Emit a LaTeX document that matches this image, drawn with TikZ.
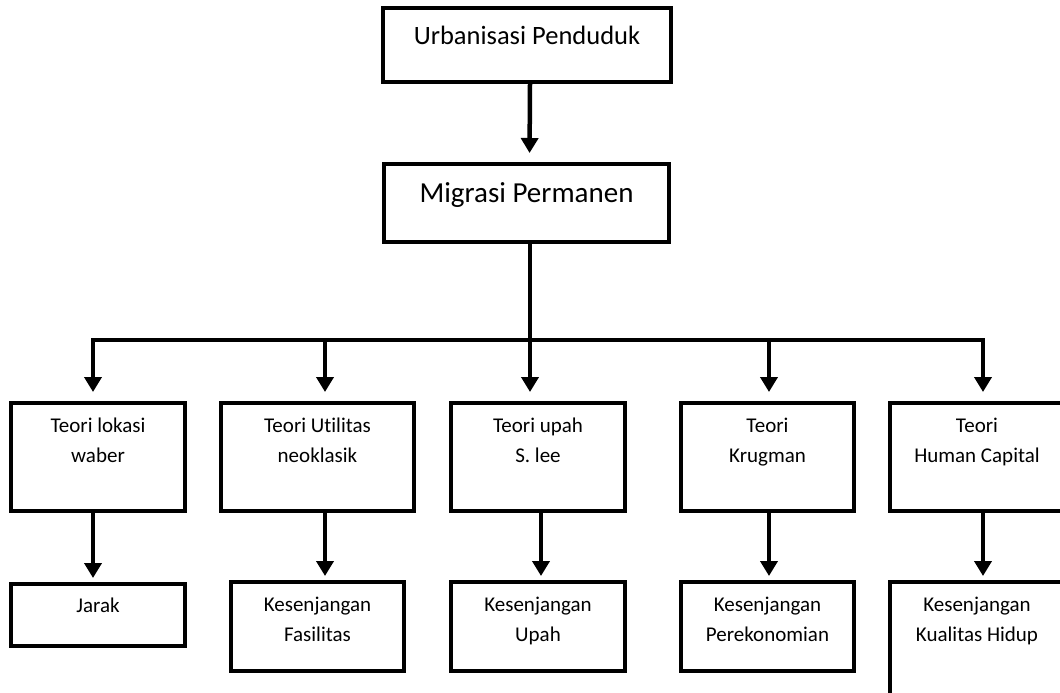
\documentclass[tikz,border=0pt]{standalone}
\usepackage{fontspec}
\setmainfont{Carlito}[Ligatures=NoCommon]
\usetikzlibrary{arrows.meta}
\tikzset{
  box/.style={draw=black, line width=4pt, fill=white, inner sep=0pt},
  txt/.style={inner sep=0pt, align=center, anchor=base, font=\fontsize{21}{30}\selectfont},
  arr/.style={line width=4.5pt, -{Triangle[width=17pt,length=15pt]}},
  ln/.style={line width=4.5pt}
}
\begin{document}
\begin{tikzpicture}[x=1pt,y=-1pt]
\useasboundingbox (0,0) rectangle (1060,693);
\clip (0,0) rectangle (1060,693);
% top boxes
\node[box, minimum width=288pt, minimum height=74pt] (urb) at (527,45) {};
\node[txt, font=\fontsize{26.5}{32}\selectfont] (urbt) at ([yshift=-39pt]urb.north) {Urbanisasi Penduduk};
\node[box, minimum width=285pt, minimum height=78pt] (mig) at (526.5,203) {};
\node[txt, font=\fontsize{29}{34}\selectfont] (migt) at ([yshift=-40pt]mig.north) {Migrasi Permanen};
% theory boxes
\node[box, minimum width=174pt, minimum height=108pt] (t1) at (98,457) {};
\node[box, minimum width=193pt, minimum height=108pt] (t2) at (317.5,457) {};
\node[box, minimum width=174pt, minimum height=108pt] (t3) at (538,457) {};
\node[box, minimum width=173pt, minimum height=108pt] (t4) at (767.5,457) {};
\node[box, minimum width=174pt, minimum height=108pt] (t5) at (977,457) {};
\node[txt] (t1t) at ([yshift=-61pt]t1.north) {Teori lokasi\\waber};
\node[txt] (t2t) at ([yshift=-61pt]t2.north) {Teori Utilitas\\neoklasik};
\node[txt] (t3t) at ([yshift=-61pt]t3.north) {Teori upah\\S. lee};
\node[txt] (t4t) at ([yshift=-61pt]t4.north) {Teori\\Krugman};
\node[txt] (t5t) at ([yshift=-61pt]t5.north) {Teori\\Human Capital};
% bottom boxes
\node[box, minimum width=174pt, minimum height=62pt] (b1) at (98,615) {};
\node[box, minimum width=173pt, minimum height=89pt] (b2) at (317.5,626.5) {};
\node[box, minimum width=174pt, minimum height=89pt] (b3) at (538,626.5) {};
\node[box, minimum width=173pt, minimum height=89pt] (b4) at (767.5,626.5) {};
\node[box, minimum width=174pt, minimum height=150pt] (b5) at (977,657) {};
\node[txt] (b1t) at ([yshift=-30pt]b1.north) {Jarak};
\node[txt] (b2t) at ([yshift=-61pt]b2.north) {Kesenjangan\\Fasilitas};
\node[txt] (b3t) at ([yshift=-61pt]b3.north) {Kesenjangan\\Upah};
\node[txt] (b4t) at ([yshift=-61pt]b4.north) {Kesenjangan\\Perekonomian};
\node[txt] (b5t) at ([yshift=-61pt]b5.north) {Kesenjangan\\Kualitas Hidup};
% connectors
\draw[arr, shorten >=9pt] ([xshift=3pt]urb.south) -- ([xshift=3pt]mig.north);
\coordinate (bus) at (530,340);
\coordinate (busL) at (93,340);
\coordinate (busR) at (983,340);
\draw[ln] (mig.south -| bus) -- (bus);
\draw[ln, line cap=rect] (busL) -- (busR);
\draw[arr, shorten >=9pt] (busL) -- (busL |- t1.north);
\draw[arr, shorten >=9pt] (bus -| 325,0) -- (325,0 |- t2.north);
\draw[arr, shorten >=9pt] (bus) -- (bus |- t3.north);
\draw[arr, shorten >=9pt] (bus -| 769,0) -- (769,0 |- t4.north);
\draw[arr, shorten >=9pt] (busR) -- (busR |- t5.north);
\draw[arr, shorten >=4pt] ([xshift=-5pt]t1.south) -- ([xshift=-5pt]b1.north);
\draw[arr, shorten >=4pt] ([xshift=7.5pt]t2.south) -- ([xshift=7.5pt]b2.north);
\draw[arr, shorten >=4pt] ([xshift=3pt]t3.south) -- ([xshift=3pt]b3.north);
\draw[arr, shorten >=4pt] ([xshift=1.5pt]t4.south) -- ([xshift=1.5pt]b4.north);
\draw[arr, shorten >=4pt] ([xshift=6pt]t5.south) -- ([xshift=6pt]b5.north);
\end{tikzpicture}
\end{document}
